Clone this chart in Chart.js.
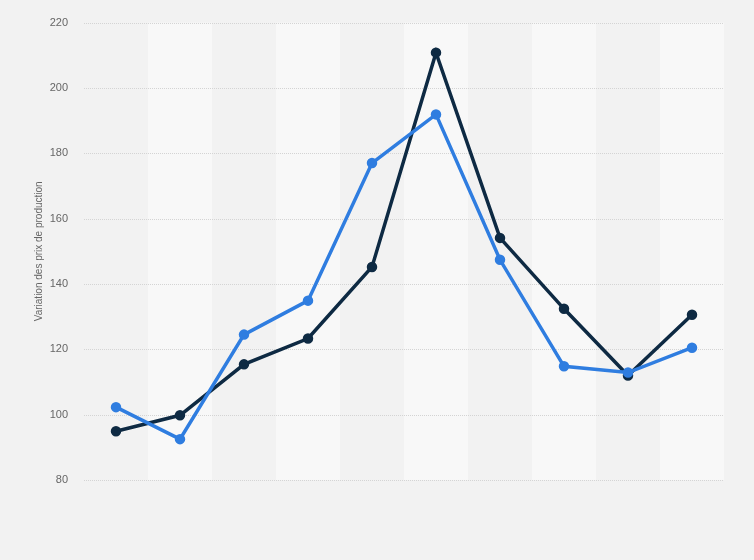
<!DOCTYPE html>
<html><head><meta charset="utf-8">
<script src="https://cdn.jsdelivr.net/npm/chart.js@4/dist/chart.umd.min.js"></script>
<style>html,body{margin:0;padding:0;background:#f2f2f2;}#wrap{width:754px;height:560px;}</style>
</head><body><div id="wrap"><canvas id="c" width="754" height="560"></canvas></div>
<script>
const categories = ['1','2','3','4','5','6','7','8','9','10'];
const seriesBlue = [102.3, 92.5, 124.5, 134.9, 177.0, 191.9, 147.4, 114.8, 112.9, 120.5];
const seriesDark = [94.9, 99.8, 115.4, 123.3, 145.2, 210.8, 154.1, 132.4, 112.0, 130.6];
const yTicks = [80, 100, 120, 140, 160, 180, 200, 220];

const bands = {
  id: 'bands',
  beforeDatasetsDraw(chart) {
    const {ctx, chartArea, scales} = chart;
    const x = scales.x;
    const step = x.getPixelForValue(1) - x.getPixelForValue(0);
    ctx.save();
    ctx.fillStyle = '#f8f8f8';
    for (let i = 1; i < categories.length; i += 2) {
      const c = x.getPixelForValue(i);
      ctx.fillRect(c - step / 2, chartArea.top, step, chartArea.bottom - chartArea.top);
    }
    ctx.restore();
  }
};

const gridAbove = {
  id: 'gridAbove',
  beforeDatasetsDraw(chart) {
    const {ctx, chartArea, scales} = chart;
    ctx.save();
    ctx.strokeStyle = '#d4d4d4';
    ctx.lineWidth = 1;
    ctx.setLineDash([1, 1]);
    yTicks.forEach(v => {
      const y = Math.round(scales.y.getPixelForValue(v)) + 0.5;
      ctx.beginPath();
      ctx.moveTo(chartArea.left, y);
      ctx.lineTo(chartArea.right, y);
      ctx.stroke();
    });
    ctx.restore();
  }
};

const ch = new Chart(document.getElementById('c'), {
  type: 'line',
  data: {
    labels: categories,
    datasets: [
      {data: seriesBlue, borderColor: '#2f7de0', backgroundColor: '#2f7de0', borderWidth: 3.5, pointRadius: 3.5, pointHoverRadius: 3.5, tension: 0},
      {data: seriesDark, borderColor: '#0e2a43', backgroundColor: '#0e2a43', borderWidth: 3.5, pointRadius: 3.5, pointHoverRadius: 3.5, tension: 0}
    ]
  },
  options: {
    responsive: false,
    animation: false,
    layout: {padding: {left: 33, right: 30, top: 14.4, bottom: 0}},
    plugins: {legend: {display: false}, tooltip: {enabled: false}},
    scales: {
      x: {
        offset: true,
        grid: {display: false},
        border: {display: false},
        ticks: {display: false},
        afterFit(s) { s.height = 80; }
      },
      y: {
        min: 80, max: 220,
        afterBuildTicks(s) { s.ticks = yTicks.map(v => ({value: v})); },
        grid: {display: false, drawTicks: false},
        border: {display: false},
        ticks: {color: '#666', font: {family: 'Liberation Sans, Arial', size: 11}, padding: 16},
        title: {display: true, text: 'Variation des prix de production', color: '#666', font: {family: 'Liberation Sans, Arial', size: 10}, padding: {top: 0, bottom: 0}},
        afterFit(s) { s.width = 51; }
      }
    }
  },
  plugins: [bands, gridAbove]
});
const diff = ch.chartArea.top - 20;
if (Math.abs(diff) > 0.1) {
  ch.options.layout.padding.top -= diff;
  ch.update();
}
</script></body></html>
